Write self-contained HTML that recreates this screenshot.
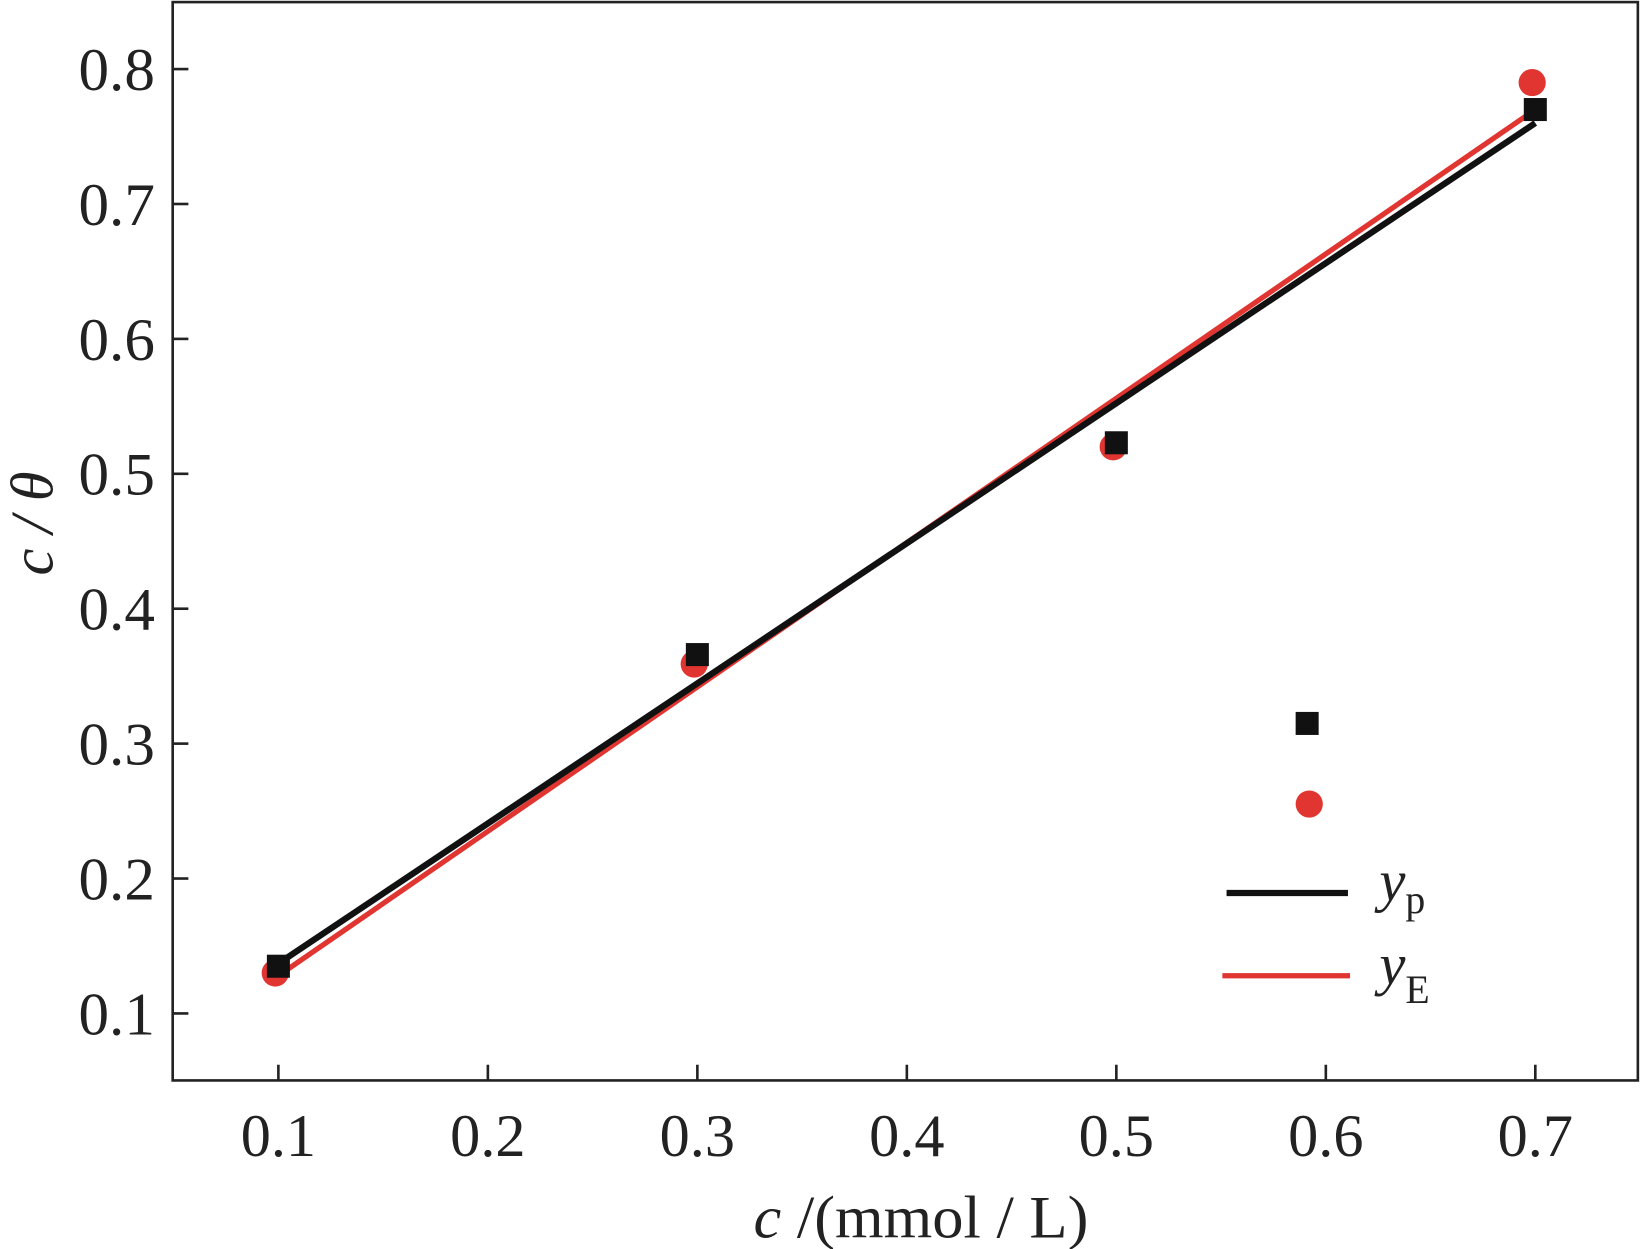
<!DOCTYPE html>
<html><head><meta charset="utf-8"><style>html,body{margin:0;padding:0;background:#fff}svg{display:block}text{font-family:"Liberation Serif",serif;fill:#222}</style></head>
<body>
<svg id="chart" width="1641" height="1249" viewBox="0 0 1568 1193" preserveAspectRatio="none" xmlns="http://www.w3.org/2000/svg">
<rect x="165" y="2" width="1400" height="1030" fill="none" stroke="#222" stroke-width="2.5"/>
<g id="ticks"></g>
<g id="marks"></g>
<text x="880" y="1182" font-size="58" text-anchor="middle" textLength="320" lengthAdjust="spacingAndGlyphs"><tspan font-style="italic">c</tspan> /(mmol / L)</text>
<text transform="translate(50,500) rotate(-90)" font-size="58" text-anchor="middle" font-style="italic">c / θ</text>
<g>
<rect x="1238" y="680" width="22" height="22" fill="#111"/>
<circle cx="1251" cy="768" r="13" fill="#e03530"/>
<line x1="1172" y1="853" x2="1288" y2="853" stroke="#111" stroke-width="6"/>
<line x1="1168" y1="932" x2="1290" y2="932" stroke="#e03530" stroke-width="5"/>
<text x="1318" y="860" font-size="56"><tspan font-style="italic">y</tspan><tspan font-size="38" dy="12">p</tspan></text>
<text x="1318" y="940" font-size="56"><tspan font-style="italic">y</tspan><tspan font-size="38" dy="18">E</tspan></text>
</g>
</svg>
<script>
const xTicks=[0.1,0.2,0.3,0.4,0.5,0.6,0.7];
const yTicks=[0.1,0.2,0.3,0.4,0.5,0.6,0.7,0.8];
const xVals=[0.1,0.3,0.5,0.7];
const squareVals=[0.135,0.366,0.523,0.770];
const circleVals=[0.130,0.359,0.520,0.790];
const lineX=[0.1,0.7];
const blackLine=[0.137,0.760];
const redLine=[0.128,0.770];
const NS="http://www.w3.org/2000/svg";
const sx=v=>266+(v-0.1)*2001.7;
const sy=v=>968-(v-0.1)*1288.6;
function mk(tag,attrs,parent){const e=document.createElementNS(NS,tag);for(const k in attrs)e.setAttribute(k,attrs[k]);parent.appendChild(e);return e;}
const tg=document.getElementById('ticks'),mg=document.getElementById('marks');
xTicks.forEach(t=>{const l=mk('line',{x1:sx(t),x2:sx(t),y1:1032,y2:1017,stroke:'#222','stroke-width':2.5},tg);


const tx=mk('text',{x:sx(t)-36,y:1104,'font-size':58,textLength:72,lengthAdjust:'spacingAndGlyphs'},tg);tx.textContent=t.toFixed(1);

});
yTicks.forEach(t=>{const l=mk('line',{x1:165,x2:180,y1:sy(t),y2:sy(t),stroke:'#222','stroke-width':2.5},tg);


const tx=mk('text',{x:75,y:sy(t)+20,'font-size':58,textLength:73,lengthAdjust:'spacingAndGlyphs'},tg);tx.textContent=t.toFixed(1);

});
const rl=mk('line',{x1:sx(lineX[0]),y1:sy(redLine[0]),x2:sx(lineX[1]),y2:sy(redLine[1]),stroke:'#e03530','stroke-width':5},mg);


const bl=mk('line',{x1:sx(lineX[0]),y1:sy(blackLine[0]),x2:sx(lineX[1]),y2:sy(blackLine[1]),stroke:'#111','stroke-width':6},mg);


xVals.forEach((x,i)=>{const c=mk('circle',{cx:sx(x)-3,cy:sy(circleVals[i]),r:13,fill:'#e03530'},mg);

});
xVals.forEach((x,i)=>{const r=mk('rect',{x:sx(x)-11,y:sy(squareVals[i])-11,width:22,height:22,fill:'#111'},mg);

});
</script>
</body></html>
